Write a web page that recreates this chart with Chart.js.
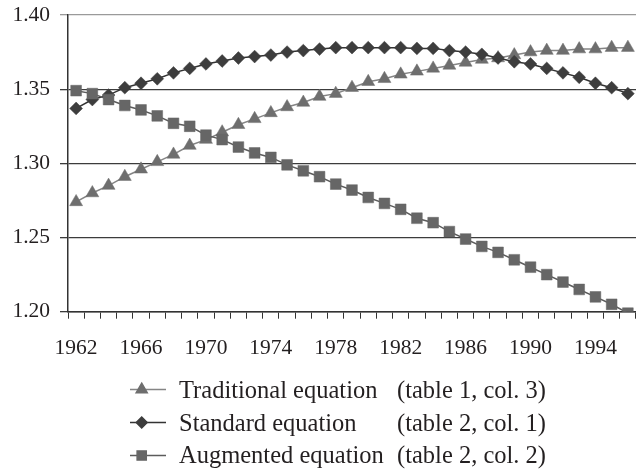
<!DOCTYPE html>
<html><head><meta charset="utf-8">
<script src="https://cdn.jsdelivr.net/npm/chart.js@4/dist/chart.umd.min.js"></script>
<style>
html,body{margin:0;padding:0;background:#fff;overflow:hidden;width:636px;height:469px;}
#wrap{position:relative;width:636px;height:469px;overflow:hidden;}
#c{position:absolute;left:0;top:0;}
#legend{position:absolute;left:130px;top:373.5px;font-family:"Liberation Serif","Times New Roman",serif;font-size:24.5px;color:#231f20;}
.row{display:flex;align-items:center;height:32.7px;white-space:pre;}
.row canvas{margin-right:13px;}
.name{display:inline-block;width:218px;}
</style></head><body>
<div id="wrap"><canvas id="c" width="645" height="469"></canvas><div id="legend"></div></div>
<script>
const years = ['1962','1963','1964','1965','1966','1967','1968','1969','1970','1971','1972','1973','1974','1975','1976','1977','1978','1979','1980','1981','1982','1983','1984','1985','1986','1987','1988','1989','1990','1991','1992','1993','1994','1995','1996'];
const xTickLabels = ['1962','1966','1970','1974','1978','1982','1986','1990','1994'];
const yTickValues = [1.20,1.25,1.30,1.35,1.40];
const yTickLabels = ['1.20','1.25','1.30','1.35','1.40'];
const seriesNames = ['Traditional equation','Standard equation','Augmented equation'];
const seriesSources = ['(table 1, col. 3)','(table 2, col. 1)','(table 2, col. 2)'];
const traditional = [1.274,1.280,1.285,1.291,1.296,1.301,1.306,1.312,1.316,1.321,1.326,1.330,1.334,1.338,1.341,1.345,1.347,1.351,1.355,1.357,1.360,1.362,1.364,1.366,1.368,1.370,1.371,1.373,1.375,1.376,1.376,1.377,1.377,1.378,1.378];
const standard = [1.337,1.343,1.346,1.351,1.354,1.357,1.361,1.364,1.367,1.369,1.371,1.372,1.373,1.375,1.376,1.377,1.378,1.378,1.378,1.378,1.378,1.3775,1.3775,1.376,1.375,1.3735,1.371,1.3685,1.367,1.364,1.361,1.358,1.354,1.351,1.347];
const augmented = [1.349,1.347,1.343,1.339,1.336,1.332,1.327,1.325,1.319,1.316,1.311,1.307,1.304,1.299,1.295,1.291,1.286,1.282,1.277,1.273,1.269,1.263,1.260,1.254,1.249,1.244,1.240,1.235,1.230,1.225,1.220,1.215,1.210,1.205,1.199];

const FONT = '"Liberation Serif","Times New Roman",serif';
const TXT = '#231f20';

const datasets = [
  {label: seriesNames[0], data: traditional, borderColor:'#858585', borderWidth:1.5, pointStyle:'triangle', pointRadius:7.5, pointBackgroundColor:'#6e6e6e', pointBorderColor:'#6e6e6e', pointBorderWidth:0.5, order:3},
  {label: seriesNames[1], data: standard, borderColor:'#333333', borderWidth:1.5, pointStyle:'rectRot', pointRadius:6.4, pointBackgroundColor:'#3d3d3d', pointBorderColor:'#3d3d3d', pointBorderWidth:0.5, order:2},
  {label: seriesNames[2], data: augmented, borderColor:'#5c5c5c', borderWidth:1.5, pointStyle:'rect', pointRadius:7.6, pointBackgroundColor:'#666666', pointBorderColor:'#666666', pointBorderWidth:0.5, order:1}
];

const chart = new Chart(document.getElementById('c'), {
  type:'line',
  data:{labels: years, datasets},
  options:{
    responsive:false, animation:false, devicePixelRatio:1,
    elements:{line:{tension:0}},
    layout:{padding:{top:15,left:0,right:0,bottom:107.3}},
    plugins:{legend:{display:false}, tooltip:{enabled:false}},
    scales:{
      x:{type:'category', offset:true,
        grid:{display:true, drawOnChartArea:false, drawTicks:true, tickLength:7, offset:true, color:'#333', lineWidth:1},
        border:{display:true, color:'#333', width:1.5},
        ticks:{autoSkip:false, maxRotation:0, minRotation:0, padding:17, color:TXT, font:{family:FONT, size:21.5},
          callback:function(v){const l=this.getLabelForValue(v); return xTickLabels.includes(l)?l:'';}},
        afterFit:s=>{s.height=50;}
      },
      y:{min:1.2, max:1.4,
        afterBuildTicks:s=>{s.ticks = yTickValues.map(v=>({value:v}));},
        grid:{color:c=>(c.tick && Math.abs(c.tick.value-1.4)<1e-9)?'#9a9a9a':'#3c3c3c', lineWidth:1.3, tickLength:8, drawTicks:true},
        border:{display:true, color:'#333', width:1.5},
        ticks:{padding:10, color:TXT, font:{family:FONT, size:21.5},
          callback:v=>{const i=yTickValues.findIndex(t=>Math.abs(t-v)<1e-9); return i>=0?yTickLabels[i]:'';}},
        afterFit:s=>{s.width=68; s.paddingTop=0; s.paddingBottom=0;}
      }
    }
  }
});

// HTML legend built from chart datasets
const legend = document.getElementById('legend');
chart.data.datasets.forEach((ds,i)=>{
  const row = document.createElement('div'); row.className='row';
  const cv = document.createElement('canvas'); cv.width=36; cv.height=33;
  const ctx = cv.getContext('2d');
  ctx.strokeStyle = ds.borderColor; ctx.lineWidth = ds.borderWidth;
  ctx.beginPath(); ctx.moveTo(0,16.5); ctx.lineTo(36,16.5); ctx.stroke();
  ctx.fillStyle = ds.pointBackgroundColor; ctx.strokeStyle = ds.pointBorderColor;
  Chart.helpers.drawPoint(ctx, {pointStyle: ds.pointStyle, radius: ds.pointRadius*0.85, borderWidth: ds.pointBorderWidth, rotation:0}, 11.7, 16.5);
  row.appendChild(cv);
  const n = document.createElement('span'); n.className='name'; n.textContent = ds.label; row.appendChild(n);
  const s = document.createElement('span'); s.textContent = seriesSources[i]; row.appendChild(s);
  legend.appendChild(row);
});
</script>
</body></html>
